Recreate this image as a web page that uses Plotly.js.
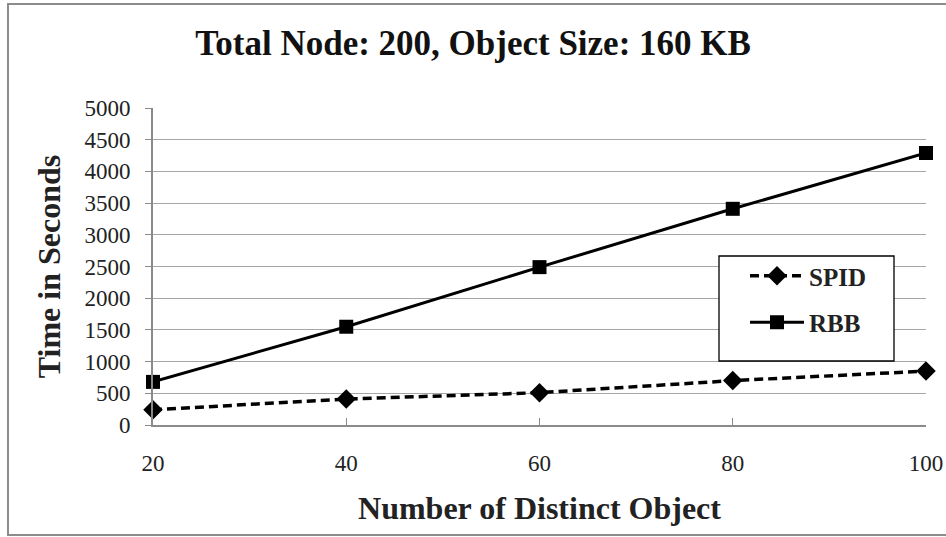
<!DOCTYPE html>
<html>
<head>
<meta charset="utf-8">
<script src="https://cdn.plot.ly/plotly-3.0.1.min.js"></script>
<style>
html,body{margin:0;padding:0;background:#fff;}
#chart{width:946px;height:537px;}
</style>
</head>
<body>
<div id="chart"></div>
<script>
const objects = [20, 40, 60, 80, 100];
const spid = [240, 410, 510, 700, 850];
const rbb = [680, 1550, 2490, 3410, 4290];
const yTicks = [0, 500, 1000, 1500, 2000, 2500, 3000, 3500, 4000, 4500, 5000];
const seriesNames = ['SPID', 'RBB'];

const serif = '"Liberation Serif", "DejaVu Serif", serif';

const traces = [
  {
    x: objects, y: spid, name: '<b>' + seriesNames[0] + '</b>', type: 'scatter', mode: 'lines+markers',
    legendgroup: 'a',
    line: {color: '#000', width: 3.5, dash: '9px,5px'},
    marker: {symbol: 'diamond', size: 15, color: '#000'},
    cliponaxis: false
  },
  {
    x: objects, y: rbb, name: '<b>' + seriesNames[1] + '</b>', type: 'scatter', mode: 'lines+markers',
    legendgroup: 'b',
    line: {color: '#000', width: 3},
    marker: {symbol: 'square', size: 14, color: '#000'},
    cliponaxis: false
  }
];

const L = 153, PW = 773, B = 425, PH = 317;
function px(x) { return (x - L) / PW; }
function py(y) { return (B - y) / PH; }

const layout = {
  width: 946, height: 537,
  margin: {l: 153, r: 20, t: 108, b: 112},
  paper_bgcolor: '#fff', plot_bgcolor: '#fff',
  font: {family: serif, color: '#000'},
  title: {
    text: '<b>Total Node: 200, Object Size: 160 KB</b>',
    font: {family: serif, size: 35, color: '#111'},
    x: 0.5, xanchor: 'center', y: 0.92, yanchor: 'middle'
  },
  xaxis: {
    range: [20, 100], tickvals: objects, ticktext: objects.map(String),
    showgrid: false, zeroline: false,
    showline: true, linecolor: '#8a8a8a', linewidth: 2,
    ticks: 'inside', ticklen: 7, tickcolor: '#8a8a8a', tickwidth: 1,
    tickfont: {family: serif, size: 23, color: '#222'},
    ticklabelstandoff: 16,
    title: {text: '<b>Number of Distinct Object</b>', font: {family: serif, size: 32, color: '#222'}, standoff: 22}
  },
  yaxis: {
    range: [0, 5000], tickvals: yTicks, ticktext: yTicks.map(String),
    showgrid: true, gridcolor: '#a6a6a6', gridwidth: 1,
    zeroline: false,
    showline: true, linecolor: '#8a8a8a', linewidth: 2,
    ticks: 'outside', ticklen: 6, tickcolor: '#8a8a8a', tickwidth: 1,
    tickfont: {family: serif, size: 23, color: '#222'},
    ticklabelstandoff: 10,
    title: {text: '<b>Time in Seconds</b>', font: {family: serif, size: 32, color: '#222'}, standoff: 14}
  },
  showlegend: true,
  legend: {
    x: px(745), y: py(253), xanchor: 'left', yanchor: 'top',
    bgcolor: 'rgba(0,0,0,0)', borderwidth: 0,
    font: {family: serif, size: 25, color: '#222'},
    itemwidth: 54,
    traceorder: 'grouped', tracegroupgap: 11
  },
  shapes: [
    {type: 'rect', xref: 'paper', yref: 'paper',
     x0: -0.1876, x1: 1.05, y0: -0.347, y1: 1.328,
     line: {color: '#8c8c8c', width: 2}, fillcolor: 'rgba(0,0,0,0)', layer: 'below'},
    {type: 'rect', xref: 'paper', yref: 'paper',
     x0: px(719), x1: px(894), y0: py(361), y1: py(256),
     line: {color: '#000', width: 1.3}, fillcolor: '#fff', layer: 'above'}
  ]
};

Plotly.newPlot('chart', traces, layout, {displayModeBar: false, staticPlot: true});
</script>
</body>
</html>
